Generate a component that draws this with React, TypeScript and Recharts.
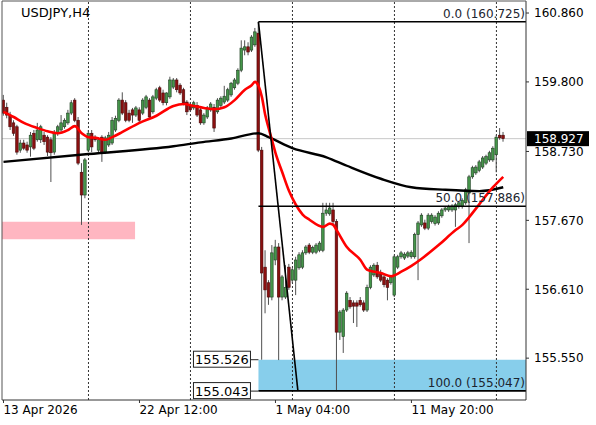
import React from 'react';
import {
  ComposedChart,
  Bar,
  Line,
  XAxis,
  YAxis,
  ReferenceLine,
  ReferenceArea,
  ReferenceDot,
} from 'recharts';

// ---------- DATA ----------
const openP = [
  159.52, 159.41, 159.29, 159.17, 159.11, 158.75, 158.86, 158.83, 158.8, 159.01,
  158.91, 158.91, 158.98, 158.95, 158.91, 158.72, 159.01, 159.06, 159.11, 159.17,
  159.32, 159.52, 159.21, 158.41, 158.06, 158.75, 159.01, 158.95, 158.75, 158.95,
  158.72, 158.83, 158.86, 159.06, 159.21, 159.52, 159.48, 159.32, 159.37, 159.29,
  159.37, 159.32, 159.41, 159.52, 159.34, 159.55, 159.71, 159.63, 159.48, 159.57,
  159.72, 159.83, 159.75, 159.68, 159.49, 159.44, 159.4, 159.44, 159.37, 159.17,
  159.26, 159.37, 159.41, 159.34, 159.44, 159.49, 159.52, 159.6, 159.71, 159.78,
  159.98, 160.29, 160.34, 160.29, 160.37, 160.55, 158.75, 156.95, 156.71, 156.49,
  157.06, 157.26, 156.49, 156.49, 156.95, 156.75, 156.75, 156.94, 156.95, 157.17,
  157.29, 157.18, 157.18, 157.21, 157.21, 157.78, 157.77, 157.83, 157.65, 155.95,
  155.88, 156.29, 156.44, 156.4, 156.4, 156.44, 156.4, 156.29, 156.64, 156.83,
  156.98, 156.86, 156.8, 156.75, 156.71, 156.52, 156.95, 157.11, 157.09, 157.12,
  157.11, 157.11, 157.45, 157.6, 157.63, 157.55, 157.65, 157.62, 157.63, 157.74,
  157.83, 157.83, 157.83, 157.83, 157.88, 157.88, 157.94, 158.09, 158.34, 158.4,
  158.44, 158.49, 158.55, 158.6, 158.6, 158.68, 158.98, 158.98,
];
const highP = [
  159.6, 159.48, 159.34, 159.21, 159.14, 158.91, 158.91, 158.88, 159.03, 159.06,
  159.17, 159.14, 159.03, 158.98, 158.95, 159.06, 159.14, 159.29, 159.24, 159.37,
  159.52, 159.55, 159.26, 158.55, 158.63, 159.06, 159.06, 158.98, 158.95, 158.98,
  158.97, 159.03, 159.26, 159.28, 159.55, 159.64, 159.52, 159.37, 159.4, 159.43,
  159.41, 159.55, 159.6, 159.55, 159.6, 159.71, 159.74, 159.68, 159.64, 159.88,
  159.86, 159.86, 159.78, 159.71, 159.52, 159.49, 159.51, 159.49, 159.41, 159.32,
  159.43, 159.49, 159.46, 159.55, 159.58, 159.74, 159.71, 159.8, 159.86, 160.01,
  160.44, 160.44, 160.41, 160.52, 160.63, 160.725, 158.8, 157.21, 156.75, 157.29,
  157.37, 157.32, 156.83, 156.98, 157.0, 156.94, 157.11, 157.18, 157.21, 157.29,
  157.32, 157.28, 157.32, 157.35, 157.94, 157.94, 157.94, 157.94, 157.69, 156.29,
  156.32, 156.58, 156.49, 156.44, 156.44, 156.49, 156.44, 156.68, 156.98, 157.01,
  157.03, 156.91, 156.83, 156.78, 156.83, 157.14, 157.14, 157.2, 157.18, 157.2,
  157.21, 157.48, 157.66, 157.78, 157.68, 157.78, 157.78, 157.75, 157.81, 157.86,
  157.89, 157.91, 157.92, 157.94, 157.97, 158.01, 158.17, 158.37, 158.51, 158.52,
  158.6, 158.66, 158.68, 158.74, 158.81, 158.98, 159.09, 159.03,
];
const lowP = [
  159.28, 159.24, 159.06, 158.97, 158.68, 158.71, 158.75, 158.71, 158.65, 158.75,
  158.88, 158.86, 158.83, 158.66, 158.26, 158.68, 158.97, 159.03, 159.08, 159.14,
  159.29, 159.18, 158.52, 157.6, 158.01, 158.72, 158.72, 158.88, 158.72, 158.57,
  158.69, 158.8, 158.83, 159.03, 159.18, 159.29, 159.18, 159.18, 159.17, 159.26,
  159.18, 159.29, 159.38, 159.23, 159.31, 159.52, 159.49, 159.44, 159.44, 159.54,
  159.69, 159.64, 159.6, 159.44, 159.29, 159.34, 159.37, 159.26, 159.14, 159.14,
  159.23, 159.34, 159.03, 159.31, 159.4, 159.46, 159.49, 159.57, 159.68, 159.75,
  159.95, 160.21, 160.21, 160.26, 160.34, 158.72, 155.526, 156.24, 156.37, 156.44,
  156.98, 155.52, 156.44, 156.46, 156.6, 156.71, 156.52, 156.91, 156.92, 157.14,
  157.15, 157.15, 157.15, 157.18, 157.18, 157.74, 157.74, 157.6, 155.043, 155.83,
  155.63, 156.26, 156.31, 156.09, 156.03, 156.34, 156.26, 156.26, 156.61, 156.8,
  156.77, 156.72, 156.64, 156.44, 156.68, 156.49, 156.92, 157.08, 157.06, 157.09,
  157.08, 157.08, 156.75, 157.57, 157.52, 157.52, 157.62, 157.59, 157.6, 157.71,
  157.8, 157.8, 157.8, 157.57, 157.85, 157.85, 157.91, 157.32, 158.31, 158.37,
  158.41, 158.46, 158.52, 158.57, 158.57, 158.41, 158.91, 158.88,
];
const closeP = [
  159.32, 159.29, 159.11, 159.01, 158.72, 158.86, 158.78, 158.75, 158.98, 158.78,
  159.06, 159.11, 158.88, 158.72, 158.71, 159.01, 159.11, 159.17, 159.21, 159.32,
  159.48, 159.21, 158.55, 158.06, 158.6, 159.01, 158.8, 158.91, 158.91, 158.71,
  158.94, 158.98, 159.21, 159.24, 159.52, 159.32, 159.21, 159.21, 159.29, 159.4,
  159.21, 159.52, 159.57, 159.26, 159.57, 159.68, 159.52, 159.48, 159.63, 159.83,
  159.83, 159.68, 159.63, 159.48, 159.34, 159.37, 159.48, 159.29, 159.17, 159.29,
  159.4, 159.46, 159.09, 159.52, 159.55, 159.58, 159.68, 159.78, 159.83, 159.98,
  160.32, 160.34, 160.26, 160.49, 160.57, 158.75, 156.86, 156.6, 156.49, 157.17,
  157.26, 156.49, 156.8, 156.64, 156.64, 156.91, 157.06, 157.14, 157.17, 157.26,
  157.18, 157.25, 157.29, 157.32, 157.78, 157.83, 157.86, 157.65, 155.95, 156.26,
  156.29, 156.55, 156.34, 156.35, 156.35, 156.37, 156.29, 156.64, 156.95, 156.98,
  156.8, 156.75, 156.68, 156.64, 156.8, 157.11, 157.11, 157.17, 157.15, 157.17,
  157.18, 157.45, 157.63, 157.75, 157.55, 157.75, 157.75, 157.72, 157.78, 157.83,
  157.86, 157.88, 157.89, 157.91, 157.94, 157.98, 158.14, 158.34, 158.48, 158.49,
  158.57, 158.63, 158.65, 158.71, 158.78, 158.95, 158.94, 158.927,
];

// moving averages read at selected bars: [bar index, price]
const redMA: [number, number][] = [
  [0, 159.34], [3, 159.26], [6, 159.17], [10, 159.09], [13, 159.04], [16, 159.01],
  [19, 159.06], [21, 159.12], [23, 159.01], [25, 158.95], [27, 158.94], [30, 158.91],
  [32, 158.95], [35, 159.03], [40, 159.17], [45, 159.28], [50, 159.43], [53, 159.46],
  [56, 159.43], [59, 159.4], [62, 159.38], [65, 159.41], [68, 159.52], [71, 159.68],
  [73, 159.75], [74, 159.8], [75, 159.74], [76, 159.57], [77, 159.29], [78, 159.09],
  [79, 158.9], [80, 158.71], [82, 158.41], [84, 158.12], [86, 157.91], [88, 157.76],
  [90, 157.68], [94, 157.57], [96, 157.62], [97, 157.6], [98, 157.52], [101, 157.26],
  [105, 157.06], [107, 156.91], [111, 156.86], [114, 156.81], [117, 156.88],
  [120, 156.97], [123, 157.08], [128, 157.29], [133, 157.52], [135, 157.6],
  [137, 157.72], [140, 157.92], [144, 158.18], [147, 158.34],
];
const blackMA: [number, number][] = [
  [0, 158.57], [25, 158.69], [50, 158.81], [58, 158.87], [67, 158.93], [75, 159.01],
  [78, 158.95], [85, 158.78], [95, 158.64], [101, 158.51], [111, 158.31],
  [120, 158.18], [130, 158.14], [140, 158.12], [147, 158.18],
];

const yTicks = [155.55, 156.61, 157.67, 158.73, 159.8, 160.86];
const xTickPos = [0, 40, 80, 120];
const xTickLabels = ['13 Apr 2026', '22 Apr 12:00', '1 May 04:00', '11 May 20:00'];
const separators = [25, 55, 85, 115, 145];

const fibStartBar = 75;
const fibEndBar = 86.6;
const fibLevels: [string, number][] = [
  ['0.0', 160.725],
  ['50.0', 157.886],
  ['100.0', 155.047],
];
const lastPrice = 158.927;
const blueZone = [155.043, 155.526];
const pinkZone = { from: -0.44, to: 38.7, low: 157.38, high: 157.65 };
const priceLabels = [155.526, 155.043];

const xDomain: [number, number] = [-0.44, 153.7];
const yDomain: [number, number] = [154.906, 161.045];

const rows = openP.map((o, i) => ({
  i,
  open: o,
  high: highP[i],
  low: lowP[i],
  close: closeP[i],
  range: [lowP[i], highP[i]],
  red: null as number | null,
  black: null as number | null,
}));
for (const [i, v] of redMA) rows[i].red = v;
for (const [i, v] of blackMA) rows[i].black = v;

const FONT = 'DejaVu Sans';

// ---------- shapes ----------
const Candle = (props: any) => {
  const { x, y, width, height, payload } = props;
  if (!payload || height == null) return null;
  const { open, close, high, low } = payload;
  const k = height / (high - low);
  const cx = x + width / 2;
  const yO = y + (high - open) * k;
  const yC = y + (high - close) * k;
  const top = Math.min(yO, yC);
  const h = Math.max(Math.abs(yO - yC), 1);
  const bull = close >= open;
  return (
    <g>
      <line x1={cx} x2={cx} y1={y} y2={y + height} stroke="#505050" strokeWidth={1} />
      <rect
        x={cx - 1.3}
        y={top}
        width={2.6}
        height={h}
        fill={bull ? '#45954a' : '#8b1010'}
        stroke={bull ? '#1f3f22' : '#4a0808'}
        strokeWidth={0.6}
      />
    </g>
  );
};

const XTick = (props: any) => {
  const { x, y, payload } = props;
  const idx = xTickPos.indexOf(payload.value);
  return (
    <text x={x} y={y} dy={9} textAnchor="start" fontSize={12} fontFamily={FONT} fill="#000">
      {xTickLabels[idx]}
    </text>
  );
};

const fibLabelShape = (text: string) => (p: any) => (
  <text x={p.cx - 1} y={p.cy - 4} textAnchor="end" fontSize={12} fontFamily={FONT} fill="#1c2530">
    {text}
  </text>
);

const lastPriceShape = (p: any) => (
  <g>
    <rect x={p.cx + 1} y={p.cy - 7.5} width={62} height={15} fill="#000" />
    <text x={p.cx + 8} y={p.cy + 4.5} fontSize={12} fontFamily={FONT} fill="#fff">
      {lastPrice.toFixed(3)}
    </text>
  </g>
);

const priceLabelShape = (v: number) => (p: any) => (
  <g>
    <line x1={p.cx - 8} x2={p.cx} y1={p.cy} y2={p.cy} stroke="#222" strokeWidth={1} />
    <rect x={p.cx - 65} y={p.cy - 8.5} width={57} height={16} fill="#fff" stroke="#222" strokeWidth={1} />
    <text x={p.cx - 36.5} y={p.cy + 4.5} textAnchor="middle" fontSize={13} fontFamily={FONT} fill="#000">
      {v.toFixed(3)}
    </text>
  </g>
);

export default function App() {
  return (
    <div style={{ position: 'absolute', left: 0, top: 0, width: 596, height: 425, background: '#fff' }}>
      <ComposedChart
        width={596}
        height={425}
        data={rows}
        margin={{ top: 1, right: 0, bottom: 0, left: 2 }}
      >
        <XAxis
          dataKey="i"
          type="number"
          domain={xDomain}
          ticks={xTickPos}
          interval={0}
          allowDataOverflow
          tick={<XTick />}
          tickSize={3}
          height={25}
          axisLine={{ stroke: '#333' }}
          tickLine={{ stroke: '#333' }}
        />
        <YAxis
          orientation="right"
          type="number"
          domain={yDomain}
          ticks={yTicks}
          interval={0}
          allowDataOverflow
          width={70}
          tickSize={3}
          tickMargin={5}
          tickFormatter={(v: number) => v.toFixed(3)}
          tick={{ fill: '#000', fontSize: 12, fontFamily: FONT }}
          axisLine={{ stroke: '#333' }}
          tickLine={{ stroke: '#333' }}
        />

        <ReferenceArea
          x1={pinkZone.from}
          x2={pinkZone.to}
          y1={pinkZone.low}
          y2={pinkZone.high}
          fill="#ffb6c1"
          fillOpacity={1}
          stroke="none"
          ifOverflow="visible"
          zIndex={50}
        />
        <ReferenceArea
          x1={fibStartBar}
          x2={xDomain[1]}
          y1={blueZone[0]}
          y2={blueZone[1]}
          fill="#87ceeb"
          fillOpacity={1}
          stroke="none"
          ifOverflow="visible"
          zIndex={50}
        />
        {separators.map((s) => (
          <ReferenceLine key={s} x={s} stroke="#333" strokeDasharray="2 2" strokeWidth={1} zIndex={60} />
        ))}
        <ReferenceLine y={lastPrice} stroke="#c8c8c8" strokeWidth={1} zIndex={60} />
        <ReferenceLine x={xDomain[0]} stroke="#555" strokeWidth={1} ifOverflow="visible" zIndex={500} />
        <ReferenceLine y={yDomain[1]} stroke="#555" strokeWidth={1} ifOverflow="visible" zIndex={500} />

        <Bar dataKey="range" barSize={3} shape={<Candle />} isAnimationActive={false} />

        <Line
          dataKey="black"
          type="monotone"
          stroke="#000"
          strokeWidth={2.4}
          dot={false}
          activeDot={false}
          connectNulls
          isAnimationActive={false}
        />
        <Line
          dataKey="red"
          type="monotone"
          stroke="#ff0000"
          strokeWidth={2.6}
          dot={false}
          activeDot={false}
          connectNulls
          isAnimationActive={false}
        />

        {fibLevels.map(([name, v]) => (
          <ReferenceLine
            key={name}
            segment={[
              { x: fibStartBar, y: v },
              { x: xDomain[1], y: v },
            ]}
            stroke="#000"
            strokeWidth={1.6}
            ifOverflow="visible"
            zIndex={450}
          />
        ))}
        <ReferenceLine
          segment={[
            { x: fibStartBar, y: fibLevels[0][1] },
            { x: fibEndBar, y: fibLevels[2][1] },
          ]}
          stroke="#000"
          strokeWidth={1.6}
          ifOverflow="visible"
          zIndex={450}
        />
        {fibLevels.map(([name, v]) => (
          <ReferenceDot
            key={'l' + name}
            x={xDomain[1]}
            y={v}
            ifOverflow="visible"
            shape={fibLabelShape(`${name} (${v.toFixed(3)})`)}
            zIndex={2100}
          />
        ))}
        {priceLabels.map((v) => (
          <ReferenceDot
            key={'p' + v}
            x={fibStartBar}
            y={v}
            ifOverflow="visible"
            shape={priceLabelShape(v)}
            zIndex={2100}
          />
        ))}
        <ReferenceDot x={xDomain[1]} y={lastPrice} ifOverflow="visible" shape={lastPriceShape} zIndex={2100} />
      </ComposedChart>
      <div
        style={{
          position: 'absolute',
          left: 21,
          top: 5,
          fontFamily: FONT,
          fontSize: 13,
          lineHeight: '16px',
          color: '#000',
          whiteSpace: 'nowrap',
        }}
      >
        USDJPY,H4
      </div>
    </div>
  );
}
